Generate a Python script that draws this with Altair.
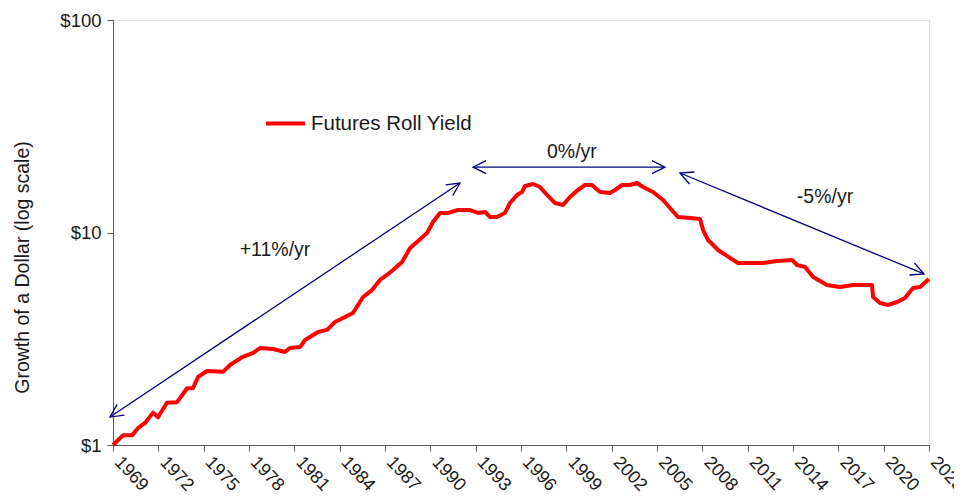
import math
import altair as alt
import pandas as pd

# ---- data ----
years = [1969.0, 1969.66, 1970.26, 1970.65, 1971.12, 1971.65, 1971.98, 1972.57, 1973.24, 1973.90,
         1974.29, 1974.63, 1975.22, 1976.28, 1976.74, 1977.60, 1978.27, 1978.73, 1979.59, 1980.38,
         1980.71, 1981.38, 1981.71, 1982.57, 1983.16, 1983.69, 1984.22, 1984.88, 1985.55, 1986.14,
         1986.67, 1987.13, 1987.53, 1988.13, 1988.66, 1989.19, 1989.78, 1990.18, 1990.64, 1991.17,
         1991.83, 1992.63, 1993.16, 1993.62, 1993.95, 1994.41, 1994.94, 1995.27, 1995.74, 1996.07,
         1996.27, 1996.80, 1997.26, 1997.72, 1998.25, 1998.78, 1999.24, 1999.77, 2000.24, 2000.70,
         2001.23, 2001.89, 2002.22, 2002.69, 2003.22, 2003.68, 2004.08, 2004.74, 2005.40, 2005.86,
         2006.39, 2007.19, 2007.85, 2008.05, 2008.38, 2009.04, 2009.83, 2010.36, 2011.16, 2012.02,
         2012.94, 2013.94, 2014.27, 2014.80, 2015.33, 2016.25, 2017.11, 2017.97, 2019.23, 2019.30,
         2019.76, 2020.29, 2020.89, 2021.41, 2021.94, 2022.41, 2023.0]
growth = [1.00, 1.11, 1.11, 1.20, 1.27, 1.42, 1.35, 1.58, 1.59, 1.85,
          1.85, 2.09, 2.23, 2.21, 2.38, 2.60, 2.71, 2.86, 2.83, 2.74,
          2.86, 2.89, 3.12, 3.40, 3.48, 3.79, 3.96, 4.18, 4.97, 5.36,
          5.98, 6.31, 6.66, 7.26, 8.45, 9.12, 9.95, 11.2, 12.36, 12.36,
          12.76, 12.76, 12.36, 12.49, 11.83, 11.83, 12.36, 13.77, 15.02, 15.51,
          16.55, 16.92, 16.37, 15.02, 13.77, 13.47, 14.70, 15.85, 16.73, 16.73,
          15.51, 15.34, 15.85, 16.73, 16.73, 17.10, 16.37, 15.51, 14.22, 13.04,
          11.83, 11.70, 11.57, 10.27, 9.22, 8.27, 7.59, 7.19, 7.19, 7.19,
          7.34, 7.42, 7.03, 6.88, 6.17, 5.66, 5.54, 5.66, 5.66, 4.97,
          4.66, 4.56, 4.71, 4.92, 5.48, 5.54, 6.04]
series_name = "Futures Roll Yield"

x_ticks = list(range(1969, 2024, 3))
y_ticks = [1, 10, 100]

# annotation arrows (start year, start value, end year, end value)
arrow_x1 = [1968.8, 1992.83, 2006.52]
arrow_y1 = [1.354, 20.3, 19.05]
arrow_x2 = [1991.96, 2005.53, 2022.67]
arrow_y2 = [17.1, 20.3, 6.38]

ann_labels = ["+11%/yr", "0%/yr", "-5%/yr"]
ann_x = [1979.72, 1999.37, 2016.12]
ann_y = [8.27, 23.9, 14.7]

# ---- layout ----
W, H = 816, 425
X0, X1 = 1969, 2023
FONT = "Liberation Sans"
NAVY = "#000080"
RED = "#FF0000"
TXT = "#1a1a1a"


def px(yr):
    return (yr - X0) / (X1 - X0) * W


def py(v):
    return H * (1 - math.log10(v) / 2)


df = pd.DataFrame({"year": years, "value": growth, "series": series_name})
arrows = pd.DataFrame({"x1": arrow_x1, "y1": arrow_y1, "x2": arrow_x2, "y2": arrow_y2})

heads = []
for a, b, c, d in zip(arrow_x1, arrow_y1, arrow_x2, arrow_y2):
    ang = math.degrees(math.atan2(py(d) - py(b), px(c) - px(a)))
    heads.append({"x": c, "y": d, "angle": ang % 360})
    heads.append({"x": a, "y": b, "angle": (ang + 180) % 360})
heads = pd.DataFrame(heads)
ann = pd.DataFrame({"label": ann_labels, "x": ann_x, "y": ann_y})

xscale = alt.Scale(domain=[X0, X1], nice=False, zero=False)
yscale = alt.Scale(type="log", domain=[1, 100], nice=False)

line = alt.Chart(df).mark_line(strokeWidth=4, strokeJoin="round").encode(
    x=alt.X("year:Q", scale=xscale, title=None,
            axis=alt.Axis(values=x_ticks, format="d", labelAngle=47, labelAlign="left",
                          labelBaseline="middle", labelPadding=8, labelOffset=4,
                          labelFontSize=18, labelOverlap=False, labelBound=False,
                          tickSize=6, grid=False, domainColor="#595959", tickColor="#595959",
                          labelColor=TXT, labelFont=FONT)),
    y=alt.Y("value:Q", scale=yscale, title="Growth of a Dollar (log scale)",
            axis=alt.Axis(values=y_ticks, labelExpr="'$' + datum.value", labelFontSize=18.5,
                          tickSize=6, grid=False, domainColor="#595959", tickColor="#595959",
                          labelColor=TXT, labelFont=FONT, labelPadding=6,
                          titleFont=FONT, titleFontSize=19.5, titleFontWeight="normal",
                          titleColor=TXT, titleX=-91, titleY=247,
                          titleAlign="center", titleBaseline="middle", titleAngle=-90)),
    color=alt.Color("series:N", scale=alt.Scale(domain=[series_name], range=[RED]),
                    legend=alt.Legend(title=None, orient="none", legendX=151, legendY=82,
                                      symbolType="stroke", symbolStrokeWidth=4,
                                      symbolSize=1521, labelFontSize=20.5, labelFont=FONT,
                                      labelLimit=400,
                                      labelColor=TXT, labelOffset=4, padding=0)),
)

shafts = alt.Chart(arrows).mark_rule(color=NAVY, strokeWidth=1.3).encode(
    x=alt.X("x1:Q", scale=xscale), y=alt.Y("y1:Q", scale=yscale),
    x2="x2:Q", y2="y2:Q",
)

head_marks = alt.Chart(heads).mark_point(
    shape="M-1,-0.5L0,0L-1,0.5", filled=False, color=NAVY, strokeWidth=1.3, size=676, opacity=1
).encode(
    x=alt.X("x:Q", scale=xscale), y=alt.Y("y:Q", scale=yscale),
    angle=alt.Angle("angle:Q", scale=None),
)

texts = alt.Chart(ann).mark_text(font=FONT, fontSize=19.5, color=TXT).encode(
    x=alt.X("x:Q", scale=xscale), y=alt.Y("y:Q", scale=yscale), text="label:N",
)

chart = alt.layer(line, shafts, head_marks, texts).properties(
    width=W, height=H,
    autosize=alt.AutoSizeParams(type="none"),
    padding={"left": 105, "top": 12, "right": 25, "bottom": 51},
).configure_view(stroke=None).configure(font=FONT)

chart.save("out.html", embed_options={"renderer": "svg", "actions": False})
